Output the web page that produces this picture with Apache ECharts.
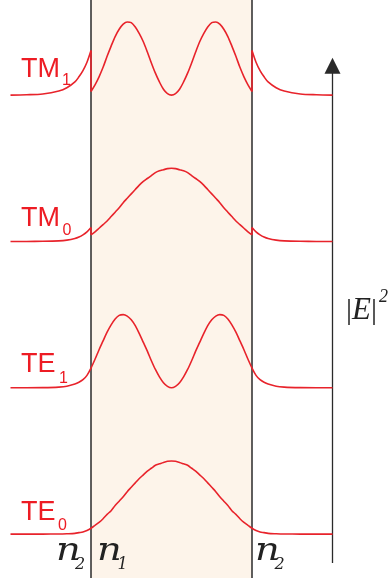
<!DOCTYPE html>
<html>
<head>
<meta charset="utf-8">
<script src="https://cdn.jsdelivr.net/npm/echarts@6/dist/echarts.min.js"></script>
<style>
  html, body { margin: 0; padding: 0; background: #ffffff; }
  #chart { width: 388px; height: 581px; }
</style>
</head>
<body>
<div id="chart"></div>
<script>
// Positions across the slab waveguide: core spans -1..1, cladding outside.
const corePos = [-1, -0.95, -0.9, -0.85, -0.8, -0.75, -0.7, -0.65, -0.6, -0.55, -0.5,
                 -0.45, -0.4, -0.35, -0.3, -0.25, -0.2, -0.15, -0.1, -0.05, 0,
                 0.05, 0.1, 0.15, 0.2, 0.25, 0.3, 0.35, 0.4, 0.45, 0.5,
                 0.55, 0.6, 0.65, 0.7, 0.75, 0.8, 0.85, 0.9, 0.95, 1];
// Distance from the core boundary into the cladding.
const tailDist = [0, 0.05, 0.1, 0.15, 0.2, 0.3, 0.4, 0.6, 0.8, 1];

// Normalised intensity |E|^2 inside the core (peak = 1).
const te0Core = [0.08, 0.12, 0.16, 0.21, 0.27, 0.32, 0.39, 0.45, 0.51, 0.58, 0.64,
                 0.70, 0.76, 0.81, 0.86, 0.90, 0.94, 0.96, 0.98, 0.995, 1.00,
                 0.995, 0.98, 0.96, 0.94, 0.90, 0.86, 0.81, 0.76, 0.70, 0.64,
                 0.58, 0.51, 0.45, 0.39, 0.32, 0.27, 0.21, 0.16, 0.12, 0.08];
const te1Core = [0.27, 0.39, 0.52, 0.64, 0.76, 0.86, 0.94, 0.99, 1.00, 0.98, 0.93,
                 0.85, 0.74, 0.62, 0.50, 0.37, 0.25, 0.15, 0.07, 0.02, 0.00,
                 0.02, 0.07, 0.15, 0.25, 0.37, 0.50, 0.62, 0.74, 0.85, 0.93,
                 0.98, 1.00, 0.99, 0.94, 0.86, 0.76, 0.64, 0.52, 0.39, 0.27];
const tm0Core = [0.09, 0.13, 0.18, 0.23, 0.28, 0.34, 0.40, 0.46, 0.53, 0.59, 0.65,
                 0.71, 0.77, 0.82, 0.86, 0.90, 0.94, 0.965, 0.98, 0.995, 1.00,
                 0.995, 0.98, 0.965, 0.94, 0.90, 0.86, 0.82, 0.77, 0.71, 0.65,
                 0.59, 0.53, 0.46, 0.40, 0.34, 0.28, 0.23, 0.18, 0.13, 0.09];
const tm1Core = [0.05, 0.14, 0.25, 0.38, 0.53, 0.67, 0.80, 0.90, 0.97, 1.00, 0.99,
                 0.93, 0.84, 0.73, 0.59, 0.44, 0.30, 0.18, 0.08, 0.02, 0.00,
                 0.02, 0.08, 0.18, 0.30, 0.44, 0.59, 0.73, 0.84, 0.93, 0.99,
                 1.00, 0.97, 0.90, 0.80, 0.67, 0.53, 0.38, 0.25, 0.14, 0.05];

// Evanescent tails in the cladding (same on both sides).
const te0Tail = [0.08, 0.05, 0.03, 0.02, 0.01, 0.005, 0.002, 0, 0, 0];
const te1Tail = [0.27, 0.17, 0.11, 0.075, 0.05, 0.02, 0.009, 0.002, 0, 0];
const tm0Tail = [0.19, 0.13, 0.09, 0.06, 0.04, 0.018, 0.008, 0.002, 0, 0];
const tm1Tail = [0.61, 0.45, 0.335, 0.25, 0.18, 0.10, 0.055, 0.016, 0.005, 0];

const modeNames = ['TE', 'TE', 'TM', 'TM'];
const modeOrders = ['0', '1', '0', '1'];
const layerNames = ['n2', 'n1', 'n2'];
const axisLabel = 'E';

const RED = '#e8232b';
const LINE_DARK = '#2a2a2a';
const MODE_SPACING = 2;

const modes = [
  { core: te0Core, tail: te0Tail, tm: false },
  { core: te1Core, tail: te1Tail, tm: false },
  { core: tm0Core, tail: tm0Tail, tm: true },
  { core: tm1Core, tail: tm1Tail, tm: true }
];

function redLine(data, smooth) {
  return {
    type: 'line',
    data: data,
    smooth: smooth ? 0.3 : false,
    showSymbol: false,
    symbol: 'none',
    silent: true,
    z: 5,
    lineStyle: { color: RED, width: 1.6 }
  };
}

const series = [];

// Core slab shading and its boundaries
series.push({
  type: 'line',
  data: [],
  silent: true,
  z: 1,
  markArea: {
    silent: true,
    itemStyle: { color: '#fdf4ea' },
    data: [[{ xAxis: -1 }, { xAxis: 1 }]]
  },
  markLine: {
    silent: true,
    symbol: 'none',
    label: { show: false },
    lineStyle: { color: LINE_DARK, width: 1.5, type: 'solid' },
    data: [{ xAxis: -1 }, { xAxis: 1 }]
  }
});

// Intensity axis arrow
series.push({
  type: 'line',
  data: [],
  silent: true,
  z: 2,
  markLine: {
    silent: true,
    symbol: ['none', 'triangle'],
    symbolSize: 16,
    label: { show: false },
    lineStyle: { color: LINE_DARK, width: 1.3, type: 'solid' },
    data: [[{ coord: [2, -0.395] }, { coord: [2, 6.40] }]]
  }
});

modes.forEach(function (m, idx) {
  const off = idx * MODE_SPACING;
  const left = tailDist.map(function (d, i) { return [-1 - d, m.tail[i] + off]; }).reverse();
  const right = tailDist.map(function (d, i) { return [1 + d, m.tail[i] + off]; });
  const core = corePos.map(function (x, i) { return [x, m.core[i] + off]; });
  if (m.tm) {
    series.push(redLine(left, true));
    series.push(redLine([[-1, m.tail[0] + off], [-1, m.core[0] + off]], false));
    series.push(redLine(core, true));
    series.push(redLine([[1, m.core[m.core.length - 1] + off], [1, m.tail[0] + off]], false));
    series.push(redLine(right, true));
  } else {
    series.push(redLine(left.slice(0, -1).concat(core, right.slice(1)), true));
  }
});

// Mode labels
const labelPos = [
  { x: 21, y: 512.5, sx: 58, sy: 525.5 },
  { x: 21, y: 365, sx: 59, sy: 379 },
  { x: 21, y: 219, sx: 62.5, sy: 231 },
  { x: 21, y: 69.5, sx: 62, sy: 80.5 }
];
const graphics = [];
modeNames.forEach(function (name, i) {
  const p = labelPos[i];
  graphics.push({
    type: 'text', x: p.x, y: p.y, z: 100, silent: true,
    style: { text: name, fill: '#ed1c24', font: '27px "Liberation Sans", Arial, sans-serif',
             textAlign: 'left', textVerticalAlign: 'middle', verticalAlign: 'middle' }
  });
  graphics.push({
    type: 'text', x: p.sx, y: p.sy, z: 100, silent: true,
    style: { text: modeOrders[i], fill: '#ed1c24', font: '16px "Liberation Sans", Arial, sans-serif',
             textAlign: 'left', textVerticalAlign: 'middle', verticalAlign: 'middle' }
  });
});

// Refractive index labels
const layerPos = [
  { x: 56, sx: 75 },
  { x: 97, sx: 117.5 },
  { x: 255, sx: 274.5 }
];
layerNames.forEach(function (nm, i) {
  const p = layerPos[i];
  graphics.push({
    type: 'text', x: p.x, y: 552, z: 100, scaleX: 1.2, silent: true,
    style: { text: nm.charAt(0), fill: '#222222', font: 'italic 32px "DejaVu Serif", serif',
             textAlign: 'left', textVerticalAlign: 'middle', verticalAlign: 'middle' }
  });
  graphics.push({
    type: 'text', x: p.sx, y: 565, z: 100, silent: true,
    style: { text: nm.charAt(1), fill: '#222222', font: 'italic 16px "DejaVu Serif", serif',
             textAlign: 'left', textVerticalAlign: 'middle', verticalAlign: 'middle' }
  });
});

// |E|^2 axis title
graphics.push({
  type: 'text', x: 346, y: 311, z: 100, silent: true,
  style: {
    text: '{b||}{e|' + axisLabel + '}{b||}',
    textAlign: 'left', textVerticalAlign: 'middle', verticalAlign: 'middle',
    rich: {
      b: { fill: '#222222', font: '30px "Liberation Serif", serif' },
      e: { fill: '#222222', font: 'italic 31px "Liberation Serif", serif' }
    }
  }
});
graphics.push({
  type: 'text', x: 379, y: 297, z: 100, silent: true,
  style: { text: '2', fill: '#222222', font: 'italic 18px "Liberation Serif", serif',
           textAlign: 'left', textVerticalAlign: 'middle', verticalAlign: 'middle' }
});

const chart = echarts.init(document.getElementById('chart'), null, { renderer: 'canvas' });
chart.setOption({
  animation: false,
  backgroundColor: '#ffffff',
  grid: { left: 10.5, right: 55.5, top: 0, bottom: 3 },
  xAxis: { type: 'value', min: -2, max: 2, show: false },
  yAxis: { type: 'value', min: -0.6, max: 7.3, show: false },
  series: series,
  graphic: graphics
});
</script>
</body>
</html>
